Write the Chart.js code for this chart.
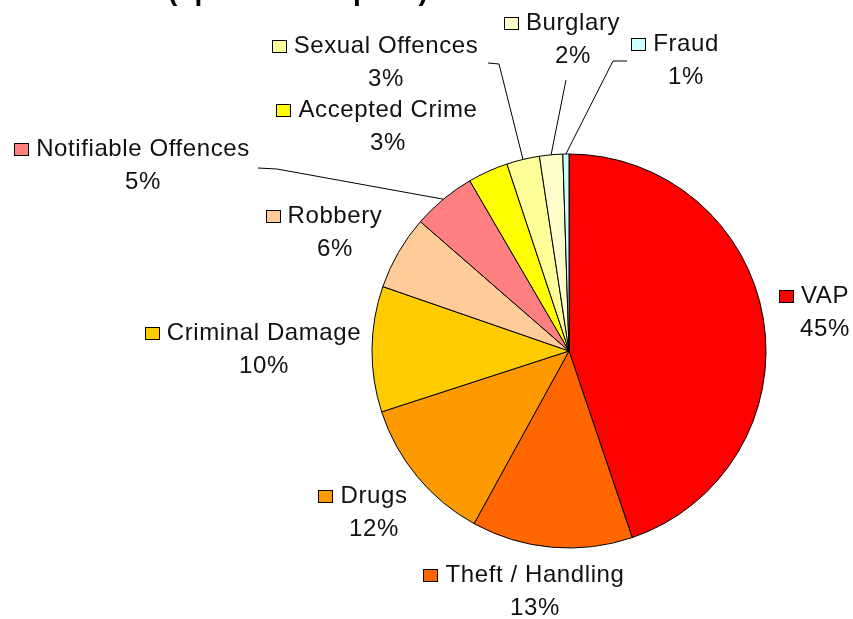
<!DOCTYPE html>
<html><head><meta charset="utf-8">
<script src="https://cdn.jsdelivr.net/npm/chart.js@4/dist/chart.umd.min.js"></script>
<style>html,body{margin:0;padding:0;background:#fff;overflow:hidden}canvas{display:block}</style>
</head><body>
<canvas id="c" width="849" height="619"></canvas>
<script>
// ---- data ----
const categories = ['VAP','Theft / Handling','Drugs','Criminal Damage','Robbery','Notifiable Offences','Accepted Crime','Sexual Offences','Burglary','Fraud'];
const shares = [44.8, 13.2, 12.0, 10.3, 6.1, 5.2, 3.3, 2.7, 1.9, 0.5];
const sliceColors = ['#FF0000','#FF6600','#FF9900','#FFCC00','#FFCC99','#FF8080','#FFFF00','#FFFF99','#FFFFCC','#CCFFFF'];
const subtitleText = '(up to 30th Sept 09)';

// ---- label layout (name centre x, name baseline y, optional leader start points) ----
const labelLayout = [
  {x: 825, y: 303},
  {x: 535, y: 582},
  {x: 374, y: 503},
  {x: 264, y: 340},
  {x: 335, y: 223},
  {x: 143, y: 156, leader: [[258,168],[277,169]]},
  {x: 388, y: 117},
  {x: 386, y: 53,  leader: [[488,63],[499,64]]},
  {x: 573, y: 30,  leader: [[566,80]]},
  {x: 686, y: 51,  leader: [[627,61],[613,61]]}
];

const total = shares.reduce((a, b) => a + b, 0);

const labelPlugin = {
  id: 'excelLabels',
  afterDatasetsDraw(chart) {
    const ctx = chart.ctx;
    const meta = chart.getDatasetMeta(0);
    ctx.save();
    ctx.strokeStyle = '#000';
    ctx.lineWidth = 1;
    meta.data.forEach((arc, i) => {
      const L = labelLayout[i];
      if (!L.leader) return;
      const mid = (arc.startAngle + arc.endAngle) / 2;
      const ex = arc.x + Math.cos(mid) * arc.outerRadius;
      const ey = arc.y + Math.sin(mid) * arc.outerRadius;
      ctx.beginPath();
      ctx.moveTo(L.leader[0][0], L.leader[0][1]);
      for (let k = 1; k < L.leader.length; k++) ctx.lineTo(L.leader[k][0], L.leader[k][1]);
      ctx.lineTo(ex, ey);
      ctx.stroke();
    });
    ctx.font = '24px "Liberation Sans", Arial, sans-serif';
    ctx.letterSpacing = '0.6px';
    ctx.textBaseline = 'alphabetic';
    ctx.textAlign = 'center';
    categories.forEach((name, i) => {
      const L = labelLayout[i];
      const w = ctx.measureText(name).width;
      ctx.fillStyle = '#111';
      ctx.fillText(name, L.x, L.y);
      const pct = Math.round(shares[i] / total * 100) + '%';
      ctx.fillText(pct, L.x, L.y + 33);
      const kx = Math.round(L.x - w / 2 - 8 - 14) + 0.5;
      const ky = Math.round(L.y - 13) + 0.5;
      ctx.fillStyle = sliceColors[i];
      ctx.fillRect(kx, ky, 14, 12);
      ctx.strokeStyle = '#000';
      ctx.strokeRect(kx, ky, 14, 12);
    });
    ctx.letterSpacing = '0px';
    ctx.textAlign = 'left';
    ctx.textBaseline = 'alphabetic';
    ctx.fillStyle = '#000';
    ctx.font = 'bold 28px "Liberation Sans", Arial, sans-serif';
    ctx.fillText(subtitleText, 168, -0.5);
    ctx.restore();
  }
};

new Chart(document.getElementById('c'), {
  type: 'pie',
  data: {
    labels: categories,
    datasets: [{
      data: shares,
      backgroundColor: sliceColors,
      borderColor: '#000',
      borderWidth: 1
    }]
  },
  options: {
    responsive: false,
    animation: false,
    devicePixelRatio: 1,
    radius: 197,
    layout: {padding: {left: 289, right: 0, top: 83, bottom: 0}},
    plugins: {legend: {display: false}, tooltip: {enabled: false}, title: {display: false}}
  },
  plugins: [labelPlugin]
});
</script>
</body></html>
